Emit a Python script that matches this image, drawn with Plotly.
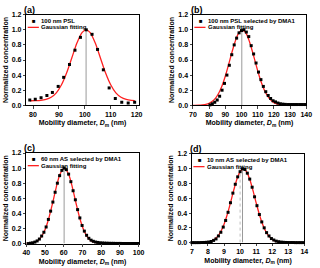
import plotly.graph_objects as go

# ---------------- data ----------------
# (a) 100 nm PSL
a_x = [78.75, 80.87, 83.11, 85.36, 87.48, 89.72, 91.84, 94.08, 96.2, 98.32,
       100.56, 102.8, 104.92, 107.16, 109.4, 111.78, 114.27, 116.76, 119.25]
a_y = [0.07, 0.08, 0.10, 0.13, 0.17, 0.25, 0.37, 0.54, 0.73, 0.90,
       1.00, 0.94, 0.74, 0.47, 0.23, 0.09, 0.04, 0.03, 0.04]
a_fit_x = [78.8, 81, 83, 85, 87, 89, 91, 93, 95, 97, 99, 100.5, 102, 104, 106,
           108, 110, 112, 114, 116, 118, 119.3]
a_fit_y = [0.060, 0.062, 0.066, 0.078, 0.106, 0.165, 0.272, 0.431, 0.630, 0.828,
           0.966, 1.000, 0.966, 0.828, 0.630, 0.431, 0.272, 0.165, 0.106, 0.078,
           0.066, 0.063]

# (b) 100 nm PSL selected by DMA1
b_x = [80.5, 82.0, 83.5, 85.0, 86.5, 88.0, 89.5, 91.0, 92.5, 94.0,
       95.5, 97.0, 98.5, 100.0, 101.5, 103.0, 104.5, 106.0, 107.5, 109.0,
       110.5, 112.0, 113.5, 115.0, 116.5, 118.0, 119.5, 121.0, 122.5, 124.0,
       125.5, 127.0, 128.5, 130.0, 131.5, 133.0, 134.5, 136.0, 137.5, 139.0]
b_y = [0.005, 0.02, 0.04, 0.07, 0.12, 0.20, 0.29, 0.40, 0.53, 0.67,
       0.80, 0.89, 0.96, 0.99, 1.00, 0.97, 0.91, 0.79, 0.68, 0.56,
       0.44, 0.34, 0.25, 0.18, 0.13, 0.09, 0.06, 0.045, 0.03, 0.02,
       0.015, 0.012, 0.01, 0.01, 0.01, 0.01, 0.01, 0.01, 0.01, 0.01]
b_fit_x = [70, 74, 76, 78, 80, 82, 84, 86, 88, 90, 92, 94, 96, 98, 100.5,
           103, 105, 107, 109, 111, 113, 115, 117, 119, 121, 123, 125, 128, 132, 140]
b_fit_y = [0.0, 0.001, 0.006, 0.013, 0.026, 0.052, 0.095, 0.162, 0.259, 0.385,
           0.535, 0.694, 0.839, 0.947, 1.0, 0.947, 0.839, 0.694, 0.535, 0.385,
           0.259, 0.162, 0.095, 0.052, 0.026, 0.013, 0.006, 0.001, 0.0, 0.0]

# (c) 60 nm AS selected by DMA1
c_x = [41.0, 42.2, 43.4, 44.6, 45.8, 47.0, 48.2, 49.4, 50.6, 51.8,
       53.0, 54.2, 55.4, 56.6, 57.8, 59.0, 60.2, 61.4, 62.6, 63.8,
       65.0, 66.2, 67.4, 68.6, 69.8, 71.0, 72.2, 73.4, 74.6, 75.8,
       77.0, 78.2, 79.4, 80.6, 81.8, 83.0, 84.2, 85.4, 86.6, 87.8,
       89.0, 90.2, 91.4, 92.6, 93.8, 95.0, 96.2, 97.4, 98.6, 99.8]
c_y = [0.0, 0.005, 0.01, 0.02, 0.035, 0.06, 0.10, 0.15, 0.22, 0.32,
       0.43, 0.55, 0.68, 0.80, 0.90, 0.97, 1.00, 0.98, 0.92, 0.82,
       0.70, 0.58, 0.45, 0.34, 0.24, 0.165, 0.11, 0.07, 0.045, 0.03,
       0.02, 0.015, 0.01, 0.008, 0.006, 0.005, 0.004, 0.003, 0.003, 0.002,
       0.002, 0.002, 0.001, 0.001, 0.001, 0.001, 0.001, 0.001, 0.001, 0.001]
c_fit_x = [40, 42, 44, 46, 48, 50, 52, 54, 56, 58, 60.3, 62.6, 64.6, 66.6,
           68.6, 70.6, 72.6, 74.6, 76.6, 78.6, 80.6, 85, 100]
c_fit_y = [0.001, 0.005, 0.015, 0.038, 0.090, 0.184, 0.333, 0.531, 0.745, 0.919,
           1.0, 0.919, 0.745, 0.531, 0.333, 0.184, 0.090, 0.038, 0.015, 0.005,
           0.001, 0.0, 0.0]

# (d) 10 nm AS selected by DMA1
d_x = [7.00, 7.15, 7.30, 7.45, 7.60, 7.75, 7.90, 8.05, 8.20, 8.35,
       8.50, 8.65, 8.80, 8.95, 9.10, 9.25, 9.40, 9.55, 9.70, 9.85,
       10.00, 10.15, 10.30, 10.45, 10.60, 10.75, 10.90, 11.05, 11.20, 11.35,
       11.50, 11.65, 11.80, 11.95, 12.10, 12.25, 12.40, 12.55, 12.70, 12.85,
       13.00, 13.15, 13.30, 13.45, 13.60, 13.75, 13.90]
d_y = [0.0, 0.0, 0.0, 0.0, 0.001, 0.002, 0.004, 0.008, 0.015, 0.03,
       0.05, 0.09, 0.14, 0.21, 0.30, 0.41, 0.54, 0.67, 0.79, 0.89,
       0.96, 1.00, 0.99, 0.94, 0.86, 0.75, 0.62, 0.50, 0.38, 0.28,
       0.20, 0.135, 0.09, 0.055, 0.035, 0.02, 0.012, 0.007, 0.004, 0.002,
       0.001, 0.001, 0.001, 0.0, 0.0, 0.0, 0.0]
d_fit_x = [7.0, 7.8, 8.0, 8.2, 8.4, 8.6, 8.8, 9.0, 9.2, 9.4, 9.6, 9.8, 10.0,
           10.2, 10.4, 10.6, 10.8, 11.0, 11.2, 11.4, 11.6, 11.8, 12.0, 12.2,
           12.4, 12.6, 13.0, 14.0]
d_fit_y = [0.0, 0.004, 0.009, 0.021, 0.044, 0.085, 0.151, 0.249, 0.381, 0.539,
           0.707, 0.857, 0.962, 1.0, 0.962, 0.857, 0.707, 0.539, 0.381, 0.249,
           0.151, 0.085, 0.044, 0.021, 0.009, 0.004, 0.0, 0.0]

peak_x = [100.5, 100.2, 60.2, 10.15]
series_names = ["100 nm PSL", "100 nm PSL selected by DMA1",
                "60 nm AS selected by DMA1", "10 nm AS selected by DMA1"]
fit_name = "Gaussian fitting"
panel_labels = ["(a)", "(b)", "(c)", "(d)"]
x_ranges = [[77.4, 120.8], [70, 140], [40, 100], [7, 14]]
x_ticks = [[80, 90, 100, 110, 120],
           [70, 80, 90, 100, 110, 120, 130, 140],
           [40, 50, 60, 70, 80, 90, 100],
           [7, 8, 9, 10, 11, 12, 13, 14]]
y_ticks = [0.0, 0.2, 0.4, 0.6, 0.8, 1.0, 1.2]

# ---------------- layout geometry (pixels) ----------------
W, H = 320, 268
FONT = "Liberation Sans, Arial, sans-serif"
boxes = [(23, 139, 11, 104), (195, 312, 11, 104),
         (23, 139, 153, 246), (194, 310, 154, 245)]

dots = [(a_x, a_y), (b_x, b_y), (c_x, c_y), (d_x, d_y)]
fits = [(a_fit_x, a_fit_y), (b_fit_x, b_fit_y), (c_fit_x, c_fit_y), (d_fit_x, d_fit_y)]

fig = go.Figure()
layout = dict(width=W, height=H, margin=dict(l=0, r=0, t=0, b=0),
              paper_bgcolor="white", plot_bgcolor="white", showlegend=False,
              font=dict(family=FONT, size=7, color="black"))
annotations = []
shapes = []

for i in range(4):
    xs = "x" if i == 0 else f"x{i+1}"
    ys = "y" if i == 0 else f"y{i+1}"
    xk = "xaxis" if i == 0 else f"xaxis{i+1}"
    yk = "yaxis" if i == 0 else f"yaxis{i+1}"
    x0, x1, y0, y1 = boxes[i]

    # peak marker line
    fig.add_trace(go.Scatter(x=[peak_x[i], peak_x[i]], y=[0, 1.0], mode="lines",
                             line=dict(color="#9a9a9a", width=1),
                             xaxis=xs, yaxis=ys, hoverinfo="skip"))
    if i == 3:
        fig.add_trace(go.Scatter(x=[10, 10], y=[0, 1.0], mode="lines",
                                 line=dict(color="#b0b0b0", width=0.8, dash="dot"),
                                 xaxis=xs, yaxis=ys, hoverinfo="skip"))
    fx, fy = fits[i]
    fig.add_trace(go.Scatter(x=fx, y=fy, mode="lines", name=fit_name,
                             line=dict(color="#ff2020", width=1.3, shape="spline", smoothing=0.8),
                             xaxis=xs, yaxis=ys))
    dx, dy = dots[i]
    fig.add_trace(go.Scatter(x=dx, y=dy, mode="markers", name=series_names[i],
                             marker=dict(symbol="square", size=3, color="black",
                                         line=dict(width=0)),
                             cliponaxis=False, xaxis=xs, yaxis=ys))

    tickfont = dict(family=FONT, size=7, color="black", weight="bold")
    titlefont = dict(family=FONT, size=7, color="black", weight="bold")
    layout[xk] = dict(domain=[x0 / W, x1 / W], anchor=ys, range=x_ranges[i],
                      tickvals=x_ticks[i], ticks="outside", ticklen=2.5, tickwidth=0.8,
                      showline=True, linecolor="black", linewidth=0.8, mirror=True,
                      showgrid=False, zeroline=False, tickfont=tickfont,
                      title=dict(text="Mobility diameter, <i>D</i><sub>m</sub> (nm)",
                                 font=titlefont, standoff=3))
    layout[yk] = dict(domain=[1 - y1 / H, 1 - y0 / H], anchor=xs, range=[0, 1.2],
                      tickvals=y_ticks, tickformat=".1f", ticks="outside", ticklen=2.5,
                      tickwidth=0.8, showline=True, linecolor="black", linewidth=0.8,
                      mirror=True, showgrid=False, zeroline=False, tickfont=tickfont,
                      title=dict(text="Normalized concentration", font=titlefont, standoff=2))

    # panel label
    annotations.append(dict(text=panel_labels[i], xref="paper", yref="paper",
                            x=(x0 - 4) / W, y=1 - (y0 - 5) / H, xanchor="left",
                            yanchor="middle", showarrow=False,
                            font=dict(family=FONT, size=9, color="black", weight="bold")))
    # custom legend
    lx = x0 + 8
    ly1 = y0 + 6
    ly2 = y0 + 13
    legfont = dict(family=FONT, size=6, color="black", weight="bold")
    annotations.append(dict(text="■", xref="paper", yref="paper", x=lx / W, y=1 - ly1 / H,
                            xanchor="center", yanchor="middle", showarrow=False,
                            font=dict(family=FONT, size=6, color="black")))
    annotations.append(dict(text=series_names[i], xref="paper", yref="paper",
                            x=(lx + 5) / W, y=1 - ly1 / H, xanchor="left",
                            yanchor="middle", showarrow=False, font=legfont))
    shapes.append(dict(type="line", xref="paper", yref="paper",
                       x0=(x0 + 1.5) / W, x1=(x0 + 13) / W, y0=1 - ly2 / H, y1=1 - ly2 / H,
                       line=dict(color="#ff2020", width=1.3)))
    annotations.append(dict(text=fit_name, xref="paper", yref="paper",
                            x=(lx + 5) / W, y=1 - ly2 / H, xanchor="left",
                            yanchor="middle", showarrow=False, font=legfont))

layout["annotations"] = annotations
layout["shapes"] = shapes
fig.update_layout(**layout)
fig.write_html("out.html", config={"displayModeBar": False},
               post_script="document.body.style.margin='0';")
